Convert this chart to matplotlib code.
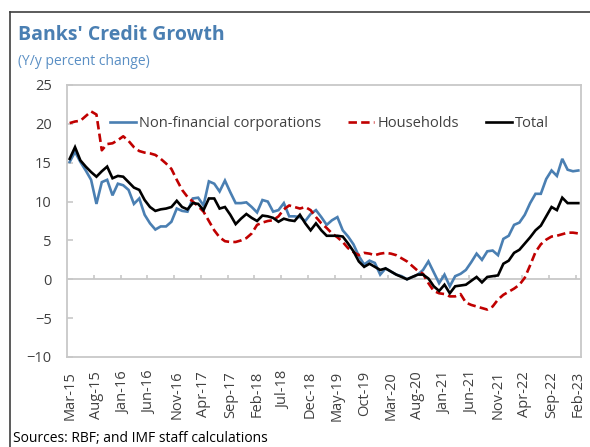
import matplotlib
matplotlib.use("Agg")
import matplotlib.pyplot as plt
from matplotlib.lines import Line2D
import numpy as np
import pandas as pd

# monthly categories Mar-15 .. Feb-23
months = pd.date_range("2015-03-01", periods=96, freq="MS").strftime("%b-%y").tolist()

nfc = [15.1, 16.4, 15.1, 14.0, 12.8, 9.7, 12.5, 12.8, 10.8, 12.3,
       12.1, 11.5, 9.7, 10.4, 8.3, 7.2, 6.4, 6.8, 6.8, 7.4,
       9.1, 8.8, 8.7, 10.4, 10.5, 9.5, 12.6, 12.3, 11.3, 12.7,
       11.2, 9.8, 9.8, 9.9, 9.3, 8.6, 10.2, 10.0, 8.7, 8.9,
       9.8, 8.1, 8.1, 8.0, 7.5, 8.4, 8.9, 8.0, 7.0, 7.6,
       8.0, 6.3, 5.5, 4.5, 3.0, 1.9, 2.4, 2.1, 0.6, 1.4,
       1.0, 0.6, 0.4, 0.0, 0.3, 0.6, 1.2, 2.3, 0.9, -0.5,
       0.6, -0.9, 0.4, 0.7, 1.2, 2.2, 3.3, 2.5, 3.6, 3.7,
       3.1, 5.2, 5.6, 7.0, 7.3, 8.3, 9.8, 11.0, 11.0, 12.9,
       14.0, 13.3, 15.5, 14.1, 13.9, 14.0]

households = [20.1, 20.3, 20.4, 21.0, 21.6, 21.2, 16.6, 17.4, 17.5, 17.9,
              18.4, 17.8, 17.0, 16.5, 16.3, 16.2, 16.0, 15.5, 14.9, 14.2,
              12.8, 11.5, 10.6, 10.0, 9.4, 8.7, 7.5, 6.3, 5.4, 4.9,
              4.8, 4.8, 5.0, 5.3, 5.9, 7.0, 7.3, 7.5, 7.6, 8.1,
              9.0, 9.5, 9.3, 9.1, 9.3, 8.9, 8.0, 7.2, 6.6, 5.9,
              5.4, 4.8, 4.0, 3.5, 3.1, 3.4, 3.3, 3.1, 3.3, 3.4,
              3.3, 3.1, 2.7, 2.3, 1.7, 1.1, 0.7, -0.5, -1.5, -1.8,
              -1.9, -2.2, -2.2, -1.9, -3.0, -3.3, -3.5, -3.7, -3.9, -3.5,
              -2.6, -2.0, -1.6, -1.2, -0.7, 0.2, 1.8, 3.5, 4.5, 5.1,
              5.5, 5.6, 5.8, 6.0, 6.0, 5.9]

total = [15.5, 17.0, 15.3, 14.5, 13.8, 13.2, 13.9, 14.5, 13.0, 13.3,
         13.2, 12.5, 11.8, 11.5, 10.2, 9.3, 8.8, 9.0, 9.1, 9.3,
         10.1, 9.3, 9.0, 9.8, 9.7, 8.9, 10.4, 10.4, 9.1, 9.3,
         8.3, 7.1, 7.8, 8.4, 7.9, 7.5, 8.2, 8.1, 7.9, 7.4,
         7.8, 7.6, 7.5, 8.3, 7.2, 6.3, 7.2, 6.3, 5.6, 5.6,
         5.6, 5.5, 4.6, 3.6, 2.3, 1.6, 2.0, 1.6, 1.2, 1.4,
         1.0, 0.6, 0.3, 0.0, 0.3, 0.6, 0.6, 0.1, -0.9, -1.5,
         -0.7, -1.8, -0.9, -0.8, -0.7, -0.2, 0.3, -0.4, 0.3, 0.4,
         0.5, 2.0, 2.4, 3.4, 3.8, 4.6, 5.4, 6.3, 6.9, 8.1,
         9.3, 8.9, 10.5, 9.8, 9.8, 9.8]

plt.rcParams['font.family'] = ['Open Sans', 'DejaVu Sans']

W, H = 590, 447
fig = plt.figure(figsize=(W / 100, H / 100), dpi=100)
ax = fig.add_axes([67 / W, 1 - 357 / H, 514 / W, 272 / H])

x = np.arange(len(months))
ax.plot(x, nfc, color='#4a7fb2', lw=1.9, label='Non-financial corporations', solid_joinstyle='miter')
ax.plot(x, households, color='#c00000', lw=1.9, ls=(0, (3.2, 1.6)), label='Households')
ax.plot(x, total, color='black', lw=1.9, label='Total', solid_joinstyle='miter')

ax.set_xlim(-0.5, len(months) - 0.5)
ax.set_ylim(-10, 25)
ax.set_yticks(np.arange(-10, 26, 5))
ax.tick_params(axis='y', direction='in', length=4, width=1.2, color='#c8c8c8',
               labelsize=10.5, labelcolor='#404040', pad=11)

ax.set_xticks(x[::5])
ax.set_xticklabels(months[::5], rotation=90)
ax.tick_params(axis='x', length=0, labelsize=10.5, labelcolor='#404040', pad=10)

for s in ax.spines.values():
    s.set_color('#c8c8c8')
    s.set_linewidth(1.3)

# zero line with category tick marks
ax.axhline(0, color='#c8c8c8', lw=1.3, zorder=1)
ax.vlines(np.arange(4.5, len(months) - 1, 5), 0, 0.6, color='#c8c8c8', lw=1.2, zorder=1)

ax.legend(loc='center left', bbox_to_anchor=(0.084, 0.857), ncol=3, frameon=False,
          fontsize=10.5, handlelength=1.75, handletextpad=0.25, columnspacing=1.85,
          borderpad=0, borderaxespad=0, labelcolor='#404040')

fig.text(18 / W, 1 - 40 / H, "Banks' Credit Growth", fontsize=14, fontweight='bold',
         color='#4a7fb2', va='baseline')
fig.text(18 / W, 1 - 65 / H, "(Y/y percent change)", fontsize=10,
         color='#5a8fc4', va='baseline')
fig.text(13 / W, 1 / H, "Sources: RBF; and IMF staff calculations", fontsize=10,
         color='black', va='bottom')

# outer frame
fig.add_artist(Line2D([10 / W, 10 / W], [0, 1 - 12 / H], color='#404040', lw=1.2,
                      transform=fig.transFigure))
fig.add_artist(Line2D([10 / W, 1], [1 - 12 / H, 1 - 12 / H], color='#404040', lw=1.2,
                      transform=fig.transFigure))

fig.savefig("out.png", dpi=100)
